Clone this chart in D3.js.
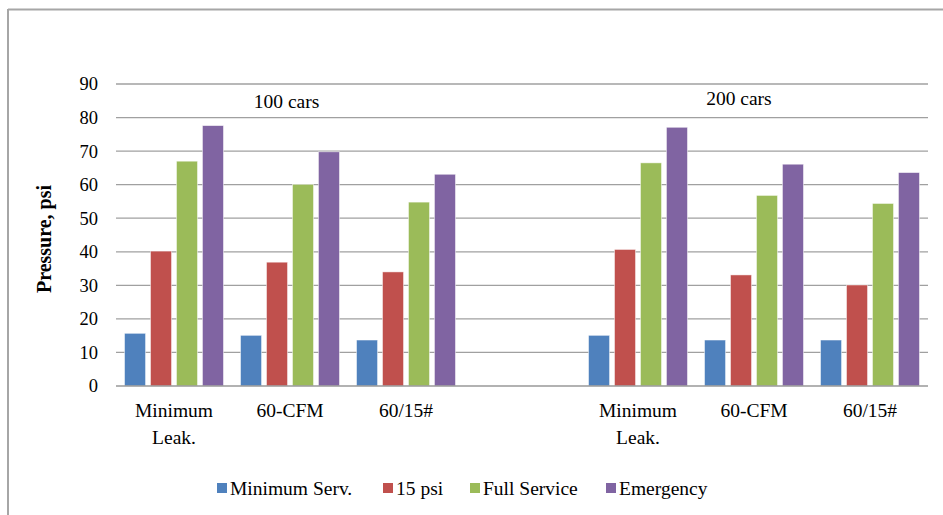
<!DOCTYPE html>
<html>
<head>
<meta charset="utf-8">
<script src="https://cdn.jsdelivr.net/npm/d3@7/dist/d3.min.js"></script>
<style>
  html, body { margin: 0; padding: 0; background: #fff; }
  svg text { font-family: "Liberation Serif", "Times New Roman", "DejaVu Serif", "Liberation Sans", Arial, sans-serif; }
</style>
</head>
<body>
<svg id="chart" width="943" height="515"></svg>
<script>
// Brake pipe pressure by leakage case, for 100-car and 200-car trains
const categories = ["Minimum Leak.", "60-CFM", "60/15#", "", "Minimum Leak. ", "60-CFM ", "60/15# "];
const categoryLines = [["Minimum", "Leak."], ["60-CFM"], ["60/15#"], [], ["Minimum", "Leak."], ["60-CFM"], ["60/15#"]];
const seriesNames = ["Minimum Serv.", "15 psi", "Full Service", "Emergency"];
const seriesColors = ["#4f81bd", "#c0504d", "#9bbb59", "#8064a2"];

const minimumServ = [15.7, 15.1, 13.7, null, 15.1, 13.7, 13.7];
const psi15       = [40.2, 36.9, 34.0, null, 40.7, 33.1, 30.1];
const fullService = [67.0, 60.1, 54.8, null, 66.5, 56.8, 54.4];
const emergency   = [77.6, 69.8, 63.1, null, 77.1, 66.1, 63.6];

const yTicks = [0, 10, 20, 30, 40, 50, 60, 70, 80, 90];
// group annotations: horizontal position in category slots, vertical position in psi
const groupLabels = [
  { text: "100 cars", slot: 0.97, value: 84.6 },
  { text: "200 cars", slot: 4.87, value: 85.5 }
];

const seriesValues = [minimumServ, psi15, fullService, emergency];

const svg = d3.select("#chart");
const plotLeft = 116, plotRight = 928, plotTop = 84, plotBottom = 386;

// outer frame: top and left edges
svg.append("line").attr("x1", 8).attr("x2", 943).attr("y1", 9.5).attr("y2", 9.5)
  .attr("stroke", "#a6a6a6").attr("stroke-width", 2);
svg.append("line").attr("x1", 8).attr("x2", 8).attr("y1", 9).attr("y2", 515)
  .attr("stroke", "#a6a6a6").attr("stroke-width", 2);

const x0 = d3.scaleBand().domain(categories).range([plotLeft, plotRight]).paddingInner(0.147).paddingOuter(0.0735);
const x1 = d3.scaleBand().domain(seriesNames).range([0, x0.bandwidth()]).paddingInner(0.19);
const y = d3.scaleLinear().domain([0, 90]).range([plotBottom, plotTop]);

// horizontal gridlines
svg.append("g").selectAll("line").data(yTicks.filter(t => t > 0)).join("line")
  .attr("x1", plotLeft).attr("x2", plotRight)
  .attr("y1", d => y(d)).attr("y2", d => y(d))
  .attr("stroke", "#a0a0a0").attr("stroke-width", 1.3);

// y axis labels
const yAxis = d3.axisLeft(y).tickValues(yTicks).tickSize(0).tickPadding(18);
const gy = svg.append("g").attr("transform", `translate(${plotLeft},0)`).call(yAxis);
gy.attr("font-family", null).attr("font-size", null);
gy.select(".domain").remove();
gy.selectAll("text").attr("font-size", 18.5).attr("fill", "#000");

// bars
const groups = svg.append("g").selectAll("g").data(categories).join("g")
  .attr("transform", d => `translate(${x0(d)},0)`);
groups.each(function (cat, ci) {
  const g = d3.select(this);
  seriesNames.forEach((s, si) => {
    const v = seriesValues[si][ci];
    if (v == null) return;
    g.append("rect")
      .attr("x", x1(s)).attr("width", x1.bandwidth())
      .attr("y", y(v)).attr("height", y(0) - y(v))
      .attr("fill", seriesColors[si])
      .attr("stroke", "#ffffff").attr("stroke-opacity", 0.6).attr("stroke-width", 0.8);
  });
});

// baseline
svg.append("line").attr("x1", plotLeft).attr("x2", plotRight).attr("y1", y(0)).attr("y2", y(0))
  .attr("stroke", "#999").attr("stroke-width", 1.5);

// category labels
const catG = svg.append("g");
categories.forEach((c, i) => {
  const cx = x0(c) + x0.bandwidth() / 2;
  categoryLines[i].forEach((line, li) => {
    catG.append("text").attr("x", cx).attr("y", 417 + li * 27)
      .attr("text-anchor", "middle").attr("font-size", 19.5).attr("fill", "#000").text(line);
  });
});

// train length annotations
const slotStep = x0.step();
groupLabels.forEach(gl => {
  svg.append("text")
    .attr("x", plotLeft + slotStep * (gl.slot + 0.5))
    .attr("y", y(gl.value) + 6)
    .attr("text-anchor", "middle").attr("font-size", 19.5).attr("fill", "#000").text(gl.text);
});

// y axis title
svg.append("text")
  .attr("transform", `translate(51,${(plotTop + plotBottom) / 2 + 4}) rotate(-90)`)
  .attr("text-anchor", "middle").attr("font-size", 20).attr("font-weight", "bold").attr("fill", "#000")
  .text("Pressure, psi");

// legend
const legendX = [217, 383, 470, 606];
const legend = svg.append("g");
seriesNames.forEach((s, i) => {
  legend.append("rect").attr("x", legendX[i]).attr("y", 483).attr("width", 10).attr("height", 10)
    .attr("fill", seriesColors[i]);
  legend.append("text").attr("x", legendX[i] + 13).attr("y", 494.5)
    .attr("font-size", 19.5).attr("fill", "#000").text(s);
});
</script>
</body>
</html>
